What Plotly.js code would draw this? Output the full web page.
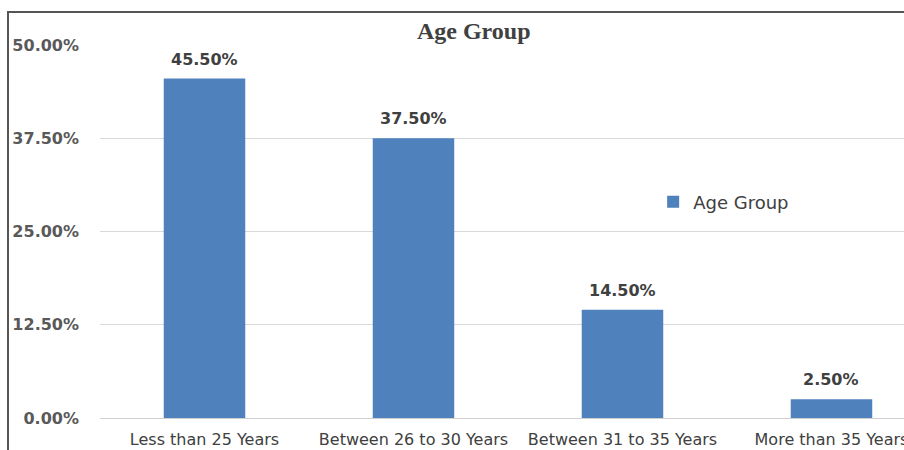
<!DOCTYPE html>
<html>
<head>
<meta charset="utf-8">
<script src="https://cdn.plot.ly/plotly-3.0.1.min.js"></script>
<style>
html,body{margin:0;padding:0;background:#fff;}
#wrap{position:relative;width:904px;height:450px;overflow:hidden;}
#chart{width:904px;height:450px;}
#frame{position:absolute;left:7px;top:11px;width:920px;height:460px;border-left:2px solid #555;border-top:2px solid #555;pointer-events:none;}
</style>
</head>
<body>
<div id="wrap"><div id="chart"></div><div id="frame"></div></div>
<script>
const categories = ["Less than 25 Years", "Between 26 to 30 Years", "Between 31 to 35 Years", "More than 35 Years"];
const values = [0.455, 0.375, 0.145, 0.025];
const seriesName = "Age Group";
const yTicks = [0, 0.125, 0.25, 0.375, 0.5];

const trace = {
  type: 'bar',
  x: categories,
  y: values,
  name: seriesName,
  marker: {color: '#4f81bd'},
  hoverinfo: 'none'
};

const annotations = categories.map((c, i) => ({
  x: c, y: values[i], xref: 'x', yref: 'y',
  text: (values[i]*100).toFixed(2) + '%',
  showarrow: false, yanchor: 'bottom', yshift: 8,
  font: {family: 'DejaVu Sans', size: 16, color: '#404040', weight: 'bold'}
}));

const layout = {
  width: 904, height: 450,
  margin: {l: 100, r: 0, t: 45, b: 32},
  paper_bgcolor: '#fff', plot_bgcolor: '#fff',
  title: {text: '<b>Age Group</b>', x: 0.524, xanchor: 'center', y: 0.931, yanchor: 'middle',
          font: {family: 'Liberation Serif', size: 24, color: '#404040'}},
  bargap: 0.61,
  showlegend: true,
  legend: {x: 0.688, y: 0.579, xanchor: 'left', yanchor: 'middle', bgcolor: 'rgba(0,0,0,0)',
           font: {family: 'DejaVu Sans', size: 18, color: '#404040'}, itemwidth: 30},
  xaxis: {type: 'category', range: [-0.5, 3.347], showgrid: false, zeroline: false, showline: false,
          ticks: '', ticklabelstandoff: 10,
          tickfont: {family: 'DejaVu Sans', size: 16, color: '#404040'}, fixedrange: true},
  yaxis: {range: [0, 0.5], tickvals: yTicks, tickformat: '.2%', showgrid: true, gridcolor: '#d9d9d9',
          gridwidth: 1, zeroline: true, zerolinecolor: '#d0d0d0', showline: false, ticks: '',
          ticklabelstandoff: 20,
          tickfont: {family: 'DejaVu Sans', size: 16, color: '#595959', weight: 'bold'}, fixedrange: true},
  annotations: annotations
};

Plotly.newPlot('chart', [trace], layout, {displayModeBar: false, staticPlot: true});
</script>
</body>
</html>
